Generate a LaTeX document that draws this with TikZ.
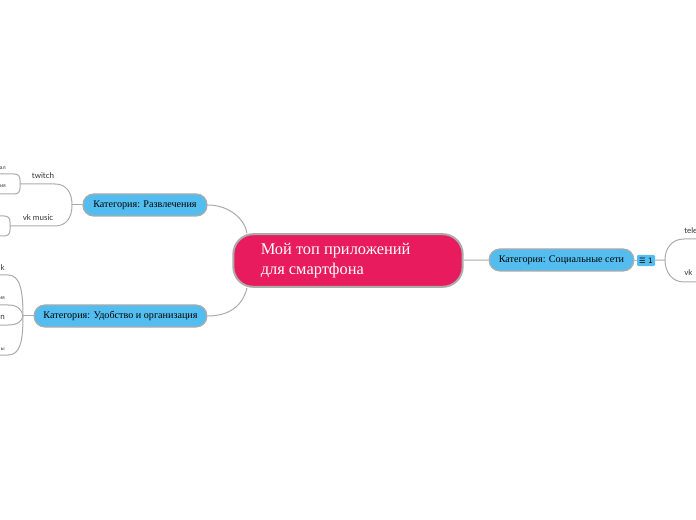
\documentclass[tikz,border=0pt]{standalone}
\usepackage{fontspec}
\setmainfont{Liberation Serif}
\newfontfamily\leaffont{Lato}
\newfontfamily\iconfont{DejaVu Sans}
\definecolor{rootred}{HTML}{E81B5E}
\definecolor{catblue}{HTML}{54BDEF}
\definecolor{edgegray}{HTML}{ABABAB}
\tikzset{
    root/.style={draw=edgegray, line width=1.5pt, fill=rootred, rounded corners=15pt, minimum width=172pt, minimum height=39.5pt, inner sep=0pt},
    category/.style={draw=edgegray, line width=0.9pt, fill=catblue, rounded corners=8pt, minimum height=16.5pt, inner sep=0pt, font=\fontsize{7.6}{9}\selectfont},
    badge/.style={fill=catblue, rounded corners=1pt, minimum width=13.5pt, minimum height=8.5pt, inner sep=0pt, font=\iconfont\fontsize{5.5}{6}\selectfont},
    leaf/.style={inner sep=0pt, font=\leaffont\fontsize{6}{7}\selectfont, text=black!80},
    tiny/.style={inner sep=0pt, font=\leaffont\fontsize{4}{5}\selectfont, text=black!80},
    edge/.style={draw=edgegray, line width=0.75pt}
}
\begin{document}
\begin{tikzpicture}[x=0.75pt, y=-0.75pt]
    \useasboundingbox (0,0) rectangle (696,520);
    \clip (0,0) rectangle (696,520);

    % fork points and free ends
    \coordinate (forkfun) at (72,205);
    \coordinate (forkorg) at (23,316);
    \coordinate (forksoc) at (665,260);
    \coordinate (forktwitch) at (20,184);
    \coordinate (forkvk) at (10,226);
    \coordinate (endtw1) at (0,174);
    \coordinate (endtw2) at (0,194);
    \coordinate (endvk1) at (0,216);
    \coordinate (endvk2) at (0,236);
    \coordinate (endorg1) at (0,275);
    \coordinate (endorg2) at (0,305);
    \coordinate (endorg3) at (0,325);
    \coordinate (endorg4) at (0,355);
    \coordinate (endsoc1) at (696,239);
    \coordinate (endsoc2) at (696,282);

    \draw[edge] (forkfun) .. controls (72,192) and (66,184) .. (55,184) -- (forktwitch);
    \draw[edge] (forkfun) .. controls (72,218) and (66,226) .. (55,226) -- (forkvk);
    \draw[edge] (forktwitch) -- (20,180) .. controls (20,176) and (18,174) .. (14,174) -- (endtw1);
    \draw[edge] (forktwitch) -- (20,188) .. controls (20,192) and (18,194) .. (14,194) -- (endtw2);
    \draw[edge] (forkvk) -- (10,222) .. controls (10,218) and (8,216) .. (4,216) -- (endvk1);
    \draw[edge] (forkvk) -- (10,230) .. controls (10,234) and (8,236) .. (4,236) -- (endvk2);
    \draw[edge] (forkorg) .. controls (23,290) and (20,275) .. (8,275) -- (endorg1);
    \draw[edge] (forkorg) .. controls (22,310) and (18,305) .. (8,305) -- (endorg2);
    \draw[edge] (forkorg) .. controls (22,321) and (18,325) .. (8,325) -- (endorg3);
    \draw[edge] (forkorg) .. controls (23,342) and (20,355) .. (8,355) -- (endorg4);
    \draw[edge] (forksoc) .. controls (665,248) and (672,239) .. (684,239) -- (endsoc1);
    \draw[edge] (forksoc) .. controls (665,272) and (672,282) .. (684,282) -- (endsoc2);

    \node[root] (core) at (348,260.5) {};
    \node[anchor=west, align=left, text=white, inner sep=0pt, font=\fontsize{12.3}{15}\selectfont] (coretext) at (260.5,260.5) {Мой топ приложений\\для смартфона};

    \node[category, minimum width=93pt] (fun) at (145,205) {Категория: Развлечения};
    \node[category, minimum width=129.5pt] (org) at (120.5,316) {Категория: Удобство и организация};
    \node[category, minimum width=108.5pt] (soc) at (561.5,260) {Категория: Социальные сети};
    \node[badge] (count) at (646,260.5) {☰ 1};

    \node[leaf] (twitch) at (43,176) {twitch};
    \node[leaf] (vkmusic) at (38,218) {vk music};
    \node[leaf, anchor=west] (tele) at (684,231) {telegram};
    \node[leaf, anchor=west] (vksoc) at (684,273) {vk};
    \node[tiny, anchor=east] (tw1) at (6,168) {ал};
    \node[tiny, anchor=east] (tw2) at (6,186) {ия};
    \node[leaf, anchor=east] (org1) at (5,268) {k};
    \node[tiny, anchor=east] (org2) at (5,298) {ия};
    \node[leaf, anchor=east] (org3) at (5,317) {n};
    \node[tiny, anchor=east] (org4) at (5,349) {ы};

    \draw[edge] (fun.east) .. controls (230,205) and (245,220) .. (core.north west -| 247,234);
    \draw[edge] (org.east) .. controls (230,316) and (243,305) .. (core.south west -| 247,287);
    \draw[edge] (core) -- (soc);
    \draw[edge] (fun) -- (forkfun);
    \draw[edge] (org) -- (forkorg);
    \draw[edge] (soc) -- (count);
    \draw[edge] (count) -- (forksoc);
\end{tikzpicture}
\end{document}
